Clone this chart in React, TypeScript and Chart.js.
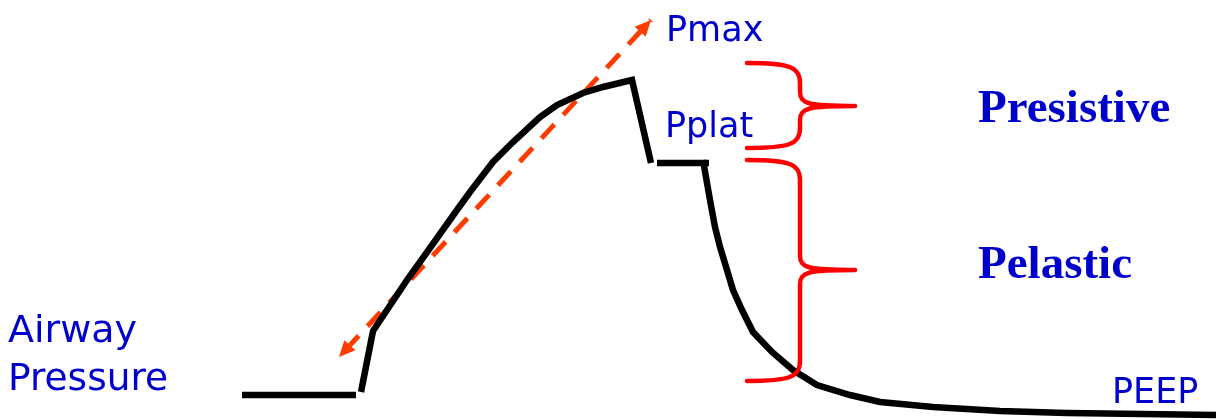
import React, { useEffect, useRef } from "react";
import { Chart, registerables } from "chart.js";

Chart.register(...registerables);

// Pressure trace (x, y in diagram units; y grows downward)
const baselineX = [242, 356];
const baselineY = [395, 395];
const inspX = [361, 373, 387, 407, 430, 457, 470, 493, 513, 540, 557, 583, 603, 632, 651];
const inspY = [392, 331, 310, 280, 248, 210, 192, 162, 142, 117, 105, 93, 87, 80, 163];
const plateauX = [657, 709];
const plateauY = [163, 163];
const expX = [703, 710, 715, 720, 727, 733, 742, 753, 772, 793, 817, 850, 880, 933, 1000, 1067, 1216];
const expY = [160, 200, 227, 247, 270, 290, 310, 332, 352, 370, 385, 395, 402, 407, 411, 413, 415];

// Dashed double arrow (resistance slope)
const arrowX = [339, 651];
const arrowY = [357, 20];

// Braces
const braceNames = ["resistive", "elastic"];
const braceTopY = [63, 160];
const braceMidY = [106, 270];
const braceBotY = [148, 381];
const braceLeftX = [747, 747];
const braceSpineX = [800, 800];
const braceTipX = [855, 855];

// Labels
const labelText = ["Pmax", "Pplat", "Presistive", "Pelastic", "Airway", "Pressure", "PEEP"];
const labelX = [666, 665, 978, 978, 8, 8, 1112];
const labelY = [41, 137, 122, 278, 342, 390, 403];
const labelSize = [35, 35, 47, 47, 38, 37.5, 35];
const labelBold = [false, false, true, true, false, false, false];

const BLUE = "#0000CC";
const ARROW = "#FF3C00";
const BRACE = "#FF0000";

const toPts = (xs: number[], ys: number[]) => xs.map((x, i) => ({ x, y: ys[i] }));

const overlayPlugin = {
  id: "overlay",
  afterDatasetsDraw(chart: any) {
    const { ctx, scales } = chart;
    const sx = (v: number) => scales.x.getPixelForValue(v);
    const sy = (v: number) => scales.y.getPixelForValue(v);
    ctx.save();

    // braces
    ctx.strokeStyle = BRACE;
    ctx.lineWidth = 4.5;
    ctx.lineCap = "round";
    ctx.lineJoin = "round";
    braceNames.forEach((_, i) => {
      const x0 = sx(braceLeftX[i]);
      const xv = sx(braceSpineX[i]);
      const xt = sx(braceTipX[i]);
      const yt = sy(braceTopY[i]);
      const ym = sy(braceMidY[i]);
      const yb = sy(braceBotY[i]);
      const r = 20;
      const rm = 14;
      ctx.beginPath();
      ctx.moveTo(x0, yt);
      ctx.bezierCurveTo(xv - 10, yt, xv, yt + 4, xv, yt + r);
      ctx.lineTo(xv, ym - rm);
      ctx.bezierCurveTo(xv, ym - 2, xv + 8, ym, xt, ym);
      ctx.bezierCurveTo(xv + 8, ym, xv, ym + 2, xv, ym + rm);
      ctx.lineTo(xv, yb - r);
      ctx.bezierCurveTo(xv, yb - 4, xv - 10, yb, x0, yb);
      ctx.stroke();
    });

    // arrow heads
    ctx.fillStyle = ARROW;
    const heads = [
      [arrowX[0], arrowY[0], arrowX[1], arrowY[1]],
      [arrowX[1], arrowY[1], arrowX[0], arrowY[0]],
    ];
    heads.forEach(([tx, ty, ox, oy]) => {
      const px = sx(tx), py = sy(ty), qx = sx(ox), qy = sy(oy);
      const dx = qx - px, dy = qy - py;
      const len = Math.hypot(dx, dy);
      const ux = dx / len, uy = dy / len;
      const L = 16, W = 7.5;
      const bx = px + ux * L, by = py + uy * L;
      ctx.beginPath();
      ctx.moveTo(px, py);
      ctx.lineTo(bx - uy * W, by + ux * W);
      ctx.lineTo(bx + uy * W, by - ux * W);
      ctx.closePath();
      ctx.fill();
    });

    // labels
    ctx.fillStyle = BLUE;
    ctx.textAlign = "left";
    ctx.textBaseline = "alphabetic";
    labelText.forEach((t, i) => {
      ctx.font = labelBold[i]
        ? `bold ${labelSize[i]}px 'Liberation Serif', serif`
        : `${labelSize[i]}px 'DejaVu Sans', sans-serif`;
      ctx.fillText(t, sx(labelX[i]), sy(labelY[i]));
    });
    ctx.restore();
  },
};

export default function App() {
  const ref = useRef<HTMLCanvasElement | null>(null);
  useEffect(() => {
    document.body.style.margin = "0";
    if (!ref.current) return;
    const line = (
      xs: number[],
      ys: number[],
      color: string,
      width: number,
      dash: number[] = [],
      dashOffset = 0
    ) => ({
      data: toPts(xs, ys),
      showLine: true,
      borderColor: color,
      backgroundColor: color,
      borderWidth: width,
      borderDash: dash,
      borderDashOffset: dashOffset,
      pointRadius: 0,
      tension: 0,
      fill: false,
      borderJoinStyle: "miter" as const,
      borderCapStyle: "butt" as const,
    });
    const chart = new Chart(ref.current, {
      type: "scatter",
      data: {
        datasets: [
          line(baselineX, baselineY, "#000000", 6.5),
          line(inspX, inspY, "#000000", 6.5),
          line(plateauX, plateauY, "#000000", 6.5),
          line(expX, expY, "#000000", 6.5),
          line(arrowX, arrowY, ARROW, 5, [19, 13], 22),
        ],
      },
      options: {
        animation: false,
        responsive: false,
        maintainAspectRatio: false,
        layout: { padding: 0 },
        plugins: { legend: { display: false }, tooltip: { enabled: false } },
        events: [],
        scales: {
          x: { type: "linear", min: 0, max: 1216, display: false },
          y: { type: "linear", min: 0, max: 419, reverse: true, display: false },
        },
      },
      plugins: [overlayPlugin],
    });
    return () => chart.destroy();
  }, []);
  return (
    <div style={{ width: 1216, height: 419, background: "#fff" }}>
      <canvas ref={ref} width={1216} height={419} style={{ display: "block" }} />
    </div>
  );
}
